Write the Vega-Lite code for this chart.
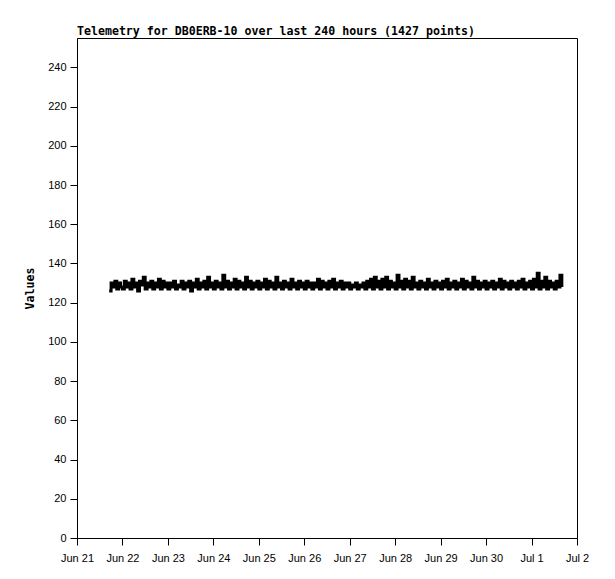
{
  "$schema": "https://vega.github.io/schema/vega-lite/v6.json",
  "width": 500,
  "height": 500,
  "autosize": "none",
  "padding": {"left": 77, "top": 38, "right": 38, "bottom": 41},
  "background": "white",
  "title": {"text": "Telemetry for DB0ERB-10 over last 240 hours (1427 points)", "anchor": "start", "frame": "group", "font": "DejaVu Sans Mono", "fontSize": 11.6, "fontWeight": "bold", "color": "black", "offset": 0},
  "config": {"view": {"stroke": "black", "strokeWidth": 1}},
  "data": {"values": [
    {"t":"2024-06-21T17:00","v":126},{"t":"2024-06-21T18:00","v":130},{"t":"2024-06-21T19:00","v":128},{"t":"2024-06-21T20:00","v":131},{"t":"2024-06-21T21:00","v":127},{"t":"2024-06-21T22:00","v":130},{"t":"2024-06-21T23:00","v":128},
    {"t":"2024-06-22T00:00","v":127},{"t":"2024-06-22T01:00","v":131},{"t":"2024-06-22T02:00","v":128},{"t":"2024-06-22T03:00","v":130},{"t":"2024-06-22T04:00","v":127},{"t":"2024-06-22T05:00","v":132},{"t":"2024-06-22T06:00","v":128},{"t":"2024-06-22T07:00","v":130},{"t":"2024-06-22T08:00","v":126},{"t":"2024-06-22T09:00","v":131},{"t":"2024-06-22T10:00","v":129},{"t":"2024-06-22T11:00","v":133},{"t":"2024-06-22T12:00","v":127},{"t":"2024-06-22T13:00","v":130},{"t":"2024-06-22T14:00","v":128},{"t":"2024-06-22T15:00","v":131},{"t":"2024-06-22T16:00","v":127},{"t":"2024-06-22T17:00","v":130},{"t":"2024-06-22T18:00","v":128},{"t":"2024-06-22T19:00","v":132},{"t":"2024-06-22T20:00","v":127},{"t":"2024-06-22T21:00","v":131},{"t":"2024-06-22T22:00","v":128},{"t":"2024-06-22T23:00","v":130},
    {"t":"2024-06-23T00:00","v":127},{"t":"2024-06-23T01:00","v":130},{"t":"2024-06-23T02:00","v":128},{"t":"2024-06-23T03:00","v":131},{"t":"2024-06-23T04:00","v":127},{"t":"2024-06-23T05:00","v":129},{"t":"2024-06-23T06:00","v":128},{"t":"2024-06-23T07:00","v":131},{"t":"2024-06-23T08:00","v":127},{"t":"2024-06-23T09:00","v":130},{"t":"2024-06-23T10:00","v":128},{"t":"2024-06-23T11:00","v":131},{"t":"2024-06-23T12:00","v":126},{"t":"2024-06-23T13:00","v":130},{"t":"2024-06-23T14:00","v":128},{"t":"2024-06-23T15:00","v":132},{"t":"2024-06-23T16:00","v":127},{"t":"2024-06-23T17:00","v":130},{"t":"2024-06-23T18:00","v":128},{"t":"2024-06-23T19:00","v":131},{"t":"2024-06-23T20:00","v":127},{"t":"2024-06-23T21:00","v":133},{"t":"2024-06-23T22:00","v":128},{"t":"2024-06-23T23:00","v":130},
    {"t":"2024-06-24T00:00","v":127},{"t":"2024-06-24T01:00","v":131},{"t":"2024-06-24T02:00","v":128},{"t":"2024-06-24T03:00","v":130},{"t":"2024-06-24T04:00","v":127},{"t":"2024-06-24T05:00","v":134},{"t":"2024-06-24T06:00","v":128},{"t":"2024-06-24T07:00","v":131},{"t":"2024-06-24T08:00","v":127},{"t":"2024-06-24T09:00","v":130},{"t":"2024-06-24T10:00","v":128},{"t":"2024-06-24T11:00","v":132},{"t":"2024-06-24T12:00","v":127},{"t":"2024-06-24T13:00","v":131},{"t":"2024-06-24T14:00","v":128},{"t":"2024-06-24T15:00","v":130},{"t":"2024-06-24T16:00","v":127},{"t":"2024-06-24T17:00","v":133},{"t":"2024-06-24T18:00","v":128},{"t":"2024-06-24T19:00","v":131},{"t":"2024-06-24T20:00","v":127},{"t":"2024-06-24T21:00","v":130},{"t":"2024-06-24T22:00","v":128},{"t":"2024-06-24T23:00","v":131},
    {"t":"2024-06-25T00:00","v":127},{"t":"2024-06-25T01:00","v":130},{"t":"2024-06-25T02:00","v":128},{"t":"2024-06-25T03:00","v":132},{"t":"2024-06-25T04:00","v":127},{"t":"2024-06-25T05:00","v":131},{"t":"2024-06-25T06:00","v":128},{"t":"2024-06-25T07:00","v":130},{"t":"2024-06-25T08:00","v":127},{"t":"2024-06-25T09:00","v":133},{"t":"2024-06-25T10:00","v":128},{"t":"2024-06-25T11:00","v":130},{"t":"2024-06-25T12:00","v":127},{"t":"2024-06-25T13:00","v":131},{"t":"2024-06-25T14:00","v":128},{"t":"2024-06-25T15:00","v":130},{"t":"2024-06-25T16:00","v":127},{"t":"2024-06-25T17:00","v":132},{"t":"2024-06-25T18:00","v":128},{"t":"2024-06-25T19:00","v":130},{"t":"2024-06-25T20:00","v":127},{"t":"2024-06-25T21:00","v":131},{"t":"2024-06-25T22:00","v":128},{"t":"2024-06-25T23:00","v":130},
    {"t":"2024-06-26T00:00","v":127},{"t":"2024-06-26T01:00","v":131},{"t":"2024-06-26T02:00","v":128},{"t":"2024-06-26T03:00","v":130},{"t":"2024-06-26T04:00","v":127},{"t":"2024-06-26T05:00","v":130},{"t":"2024-06-26T06:00","v":128},{"t":"2024-06-26T07:00","v":132},{"t":"2024-06-26T08:00","v":127},{"t":"2024-06-26T09:00","v":131},{"t":"2024-06-26T10:00","v":128},{"t":"2024-06-26T11:00","v":130},{"t":"2024-06-26T12:00","v":127},{"t":"2024-06-26T13:00","v":131},{"t":"2024-06-26T14:00","v":128},{"t":"2024-06-26T15:00","v":132},{"t":"2024-06-26T16:00","v":127},{"t":"2024-06-26T17:00","v":130},{"t":"2024-06-26T18:00","v":128},{"t":"2024-06-26T19:00","v":131},{"t":"2024-06-26T20:00","v":127},{"t":"2024-06-26T21:00","v":130},{"t":"2024-06-26T22:00","v":128},{"t":"2024-06-26T23:00","v":130},
    {"t":"2024-06-27T00:00","v":127},{"t":"2024-06-27T01:00","v":129},{"t":"2024-06-27T02:00","v":128},{"t":"2024-06-27T03:00","v":130},{"t":"2024-06-27T04:00","v":127},{"t":"2024-06-27T05:00","v":129},{"t":"2024-06-27T06:00","v":128},{"t":"2024-06-27T07:00","v":130},{"t":"2024-06-27T08:00","v":127},{"t":"2024-06-27T09:00","v":131},{"t":"2024-06-27T10:00","v":128},{"t":"2024-06-27T11:00","v":132},{"t":"2024-06-27T12:00","v":127},{"t":"2024-06-27T13:00","v":133},{"t":"2024-06-27T14:00","v":128},{"t":"2024-06-27T15:00","v":131},{"t":"2024-06-27T16:00","v":127},{"t":"2024-06-27T17:00","v":132},{"t":"2024-06-27T18:00","v":128},{"t":"2024-06-27T19:00","v":133},{"t":"2024-06-27T20:00","v":127},{"t":"2024-06-27T21:00","v":131},{"t":"2024-06-27T22:00","v":128},{"t":"2024-06-27T23:00","v":130},
    {"t":"2024-06-28T00:00","v":127},{"t":"2024-06-28T01:00","v":134},{"t":"2024-06-28T02:00","v":128},{"t":"2024-06-28T03:00","v":131},{"t":"2024-06-28T04:00","v":127},{"t":"2024-06-28T05:00","v":132},{"t":"2024-06-28T06:00","v":128},{"t":"2024-06-28T07:00","v":131},{"t":"2024-06-28T08:00","v":127},{"t":"2024-06-28T09:00","v":133},{"t":"2024-06-28T10:00","v":128},{"t":"2024-06-28T11:00","v":130},{"t":"2024-06-28T12:00","v":127},{"t":"2024-06-28T13:00","v":131},{"t":"2024-06-28T14:00","v":128},{"t":"2024-06-28T15:00","v":130},{"t":"2024-06-28T16:00","v":127},{"t":"2024-06-28T17:00","v":132},{"t":"2024-06-28T18:00","v":128},{"t":"2024-06-28T19:00","v":130},{"t":"2024-06-28T20:00","v":127},{"t":"2024-06-28T21:00","v":131},{"t":"2024-06-28T22:00","v":128},{"t":"2024-06-28T23:00","v":130},
    {"t":"2024-06-29T00:00","v":127},{"t":"2024-06-29T01:00","v":131},{"t":"2024-06-29T02:00","v":128},{"t":"2024-06-29T03:00","v":132},{"t":"2024-06-29T04:00","v":127},{"t":"2024-06-29T05:00","v":130},{"t":"2024-06-29T06:00","v":128},{"t":"2024-06-29T07:00","v":131},{"t":"2024-06-29T08:00","v":127},{"t":"2024-06-29T09:00","v":130},{"t":"2024-06-29T10:00","v":128},{"t":"2024-06-29T11:00","v":132},{"t":"2024-06-29T12:00","v":127},{"t":"2024-06-29T13:00","v":131},{"t":"2024-06-29T14:00","v":128},{"t":"2024-06-29T15:00","v":130},{"t":"2024-06-29T16:00","v":127},{"t":"2024-06-29T17:00","v":133},{"t":"2024-06-29T18:00","v":128},{"t":"2024-06-29T19:00","v":131},{"t":"2024-06-29T20:00","v":127},{"t":"2024-06-29T21:00","v":130},{"t":"2024-06-29T22:00","v":128},{"t":"2024-06-29T23:00","v":131},
    {"t":"2024-06-30T00:00","v":127},{"t":"2024-06-30T01:00","v":130},{"t":"2024-06-30T02:00","v":128},{"t":"2024-06-30T03:00","v":131},{"t":"2024-06-30T04:00","v":127},{"t":"2024-06-30T05:00","v":130},{"t":"2024-06-30T06:00","v":128},{"t":"2024-06-30T07:00","v":132},{"t":"2024-06-30T08:00","v":127},{"t":"2024-06-30T09:00","v":131},{"t":"2024-06-30T10:00","v":128},{"t":"2024-06-30T11:00","v":130},{"t":"2024-06-30T12:00","v":127},{"t":"2024-06-30T13:00","v":131},{"t":"2024-06-30T14:00","v":128},{"t":"2024-06-30T15:00","v":130},{"t":"2024-06-30T16:00","v":127},{"t":"2024-06-30T17:00","v":131},{"t":"2024-06-30T18:00","v":128},{"t":"2024-06-30T19:00","v":132},{"t":"2024-06-30T20:00","v":127},{"t":"2024-06-30T21:00","v":130},{"t":"2024-06-30T22:00","v":128},{"t":"2024-06-30T23:00","v":131},
    {"t":"2024-07-01T00:00","v":127},{"t":"2024-07-01T01:00","v":132},{"t":"2024-07-01T02:00","v":128},{"t":"2024-07-01T03:00","v":135},{"t":"2024-07-01T04:00","v":127},{"t":"2024-07-01T05:00","v":131},{"t":"2024-07-01T06:00","v":128},{"t":"2024-07-01T07:00","v":133},{"t":"2024-07-01T08:00","v":127},{"t":"2024-07-01T09:00","v":131},{"t":"2024-07-01T10:00","v":128},{"t":"2024-07-01T11:00","v":130},{"t":"2024-07-01T12:00","v":127},{"t":"2024-07-01T13:00","v":131},{"t":"2024-07-01T14:00","v":128},{"t":"2024-07-01T15:00","v":134},{"t":"2024-07-01T16:00","v":128}
  ]},
  "mark": {"type": "line", "color": "black", "strokeWidth": 3, "strokeJoin": "miter", "interpolate": "step-after"},
  "encoding": {
    "x": {
      "field": "t", "type": "temporal",
      "scale": {"domain": [{"year": 2024, "month": 6, "date": 21}, {"year": 2024, "month": 7, "date": 2}]},
      "axis": {
        "title": null, "format": "%b %e", "grid": false,
        "values": [{"year":2024,"month":6,"date":21},{"year":2024,"month":6,"date":22},{"year":2024,"month":6,"date":23},{"year":2024,"month":6,"date":24},{"year":2024,"month":6,"date":25},{"year":2024,"month":6,"date":26},{"year":2024,"month":6,"date":27},{"year":2024,"month":6,"date":28},{"year":2024,"month":6,"date":29},{"year":2024,"month":6,"date":30},{"year":2024,"month":7,"date":1},{"year":2024,"month":7,"date":2}],
        "domainColor": "black", "tickColor": "black", "tickSize": 7, "labelPadding": 7,
        "labelFont": "Liberation Sans", "labelFontSize": 11, "labelColor": "black", "labelFlush": false, "labelOverlap": false
      }
    },
    "y": {
      "field": "v", "type": "quantitative",
      "scale": {"domain": [0, 255], "nice": false, "zero": true},
      "axis": {
        "title": "Values", "titleFont": "DejaVu Sans Mono", "titleFontSize": 11.6, "titleFontWeight": "bold", "titleColor": "black", "titlePadding": 12,
        "values": [0,20,40,60,80,100,120,140,160,180,200,220,240],
        "grid": false, "domainColor": "black", "tickColor": "black", "tickSize": 7, "labelPadding": 4,
        "labelFont": "Liberation Sans", "labelFontSize": 11, "labelColor": "black", "labelFlush": false, "labelOverlap": false
      }
    }
  }
}
